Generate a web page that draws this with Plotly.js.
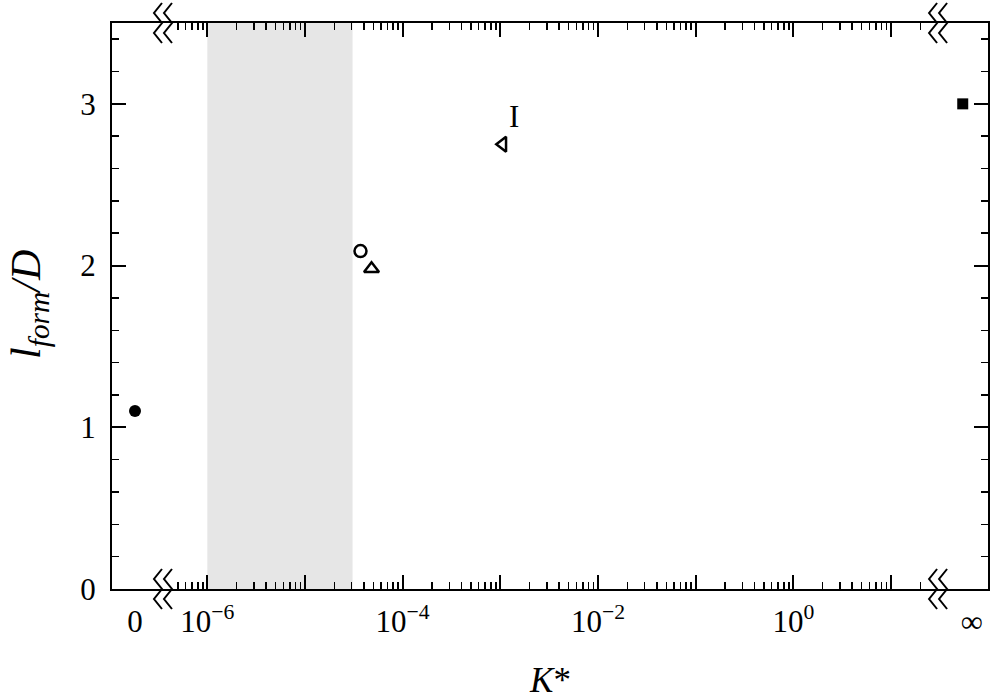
<!DOCTYPE html>
<html>
<head>
<meta charset="utf-8">
<script src="https://cdn.plot.ly/plotly-3.0.1.min.js"></script>
<style>body{margin:0;background:#fff}#graphDiv{width:993px;height:700px}</style>
</head>
<body>
<div id="graphDiv"></div>
<script>
// l_form/D against K*; K*=0 and K*=inf sit on their own short axis pieces
var zeroK = [0], zeroL = [1.1];
var infK = [0], infL = [3.0];
var circK = [3.7e-5], circL = [2.09];
var triUpK = [4.8e-5], triUpL = [1.98];
var triLeftK = [1.06e-3], triLeftL = [2.75];
var bandK = [1e-6, 3.07e-5];
var labelK = [1.39e-3], labelL = [2.92], labelText = ['I'];
var decades = [-6, -5, -4, -3, -2, -1, 0, 1];
var decadeText = ['10<sup>\u22126</sup>', '', '10<sup>\u22124</sup>', '', '10<sup>\u22122</sup>', '', '10<sup>0</sup>', ''];
var yTicks = [0, 1, 2, 3];

var majorX = decades.map(function(d) { return Math.pow(10, d); });
var minorX = [];
for (var d = -7; d <= 1; d++) {
    for (var k = 2; k <= 9; k++) {
        var lg = d + Math.log10(k);
        if (lg > -6.35 && lg < 1.35) minorX.push(k * Math.pow(10, d));
    }
}

var serif = 'Liberation Serif';
var blk = 'black';

var trace0 = {x: zeroK, y: zeroL, xaxis: 'x', yaxis: 'y', type: 'scatter', mode: 'markers',
    marker: {symbol: 'circle', size: 12, color: blk}};
var trace1 = {x: circK, y: circL, xaxis: 'x2', yaxis: 'y', type: 'scatter', mode: 'markers',
    marker: {symbol: 'circle-open', size: 12, color: blk, line: {width: 2.5}}};
var trace2 = {x: triUpK, y: triUpL, xaxis: 'x2', yaxis: 'y', type: 'scatter', mode: 'markers',
    marker: {symbol: 'triangle-up-open', size: 13, color: blk, line: {width: 2.5}}};
var trace3 = {x: triLeftK, y: triLeftL, xaxis: 'x2', yaxis: 'y', type: 'scatter', mode: 'markers',
    marker: {symbol: 'triangle-left-open', size: 13, color: blk, line: {width: 2.5}}};
var trace4 = {x: infK, y: infL, xaxis: 'x3', yaxis: 'y2', type: 'scatter', mode: 'markers',
    marker: {symbol: 'square', size: 11, color: blk}};

var data = [trace0, trace1, trace2, trace3, trace4];

// axis break marks "<<", in pixels round a paper point
var zig = 'M-1,-20L-9,-10L-1,0L-9,10L-1,20M9,-20L1,-10L9,0L1,10L9,20';
var breaks = [];
[0.0582, 0.943].forEach(function(px) {
    [0, 1].forEach(function(py) {
        breaks.push({type: 'path', xref: 'paper', yref: 'paper', xsizemode: 'pixel', ysizemode: 'pixel',
            xanchor: px, yanchor: py, path: zig, line: {color: blk, width: 2}});
    });
});

var notes = labelText.map(function(t, i) {
    return {xref: 'x2', yref: 'y', x: Math.log10(labelK[i]), y: labelL[i], text: t,
        showarrow: false, font: {family: serif, size: 31, color: blk}};
});
// y title placed by hand, further out than the axis title would go
notes.push({xref: 'paper', yref: 'paper', x: -0.094, y: 0.503, xanchor: 'center', yanchor: 'middle',
    textangle: -90, showarrow: false, text: '<i>l</i><sub><i>form</i></sub><i>/D</i>',
    font: {family: serif, size: 42, color: blk}});

var layout = {
    width: 993, height: 700,
    margin: {l: 112, r: 5, t: 23, b: 111},
    paper_bgcolor: 'white', plot_bgcolor: 'white',
    showlegend: false,
    font: {family: serif, size: 31, color: blk},
    xaxis: {domain: [0, 0.0582], range: [-0.902, 1.098], tickmode: 'array', tickvals: [0], ticktext: ['0'],
        ticks: '', showline: true, linewidth: 2, linecolor: blk, mirror: true,
        showgrid: false, zeroline: false, anchor: 'y', ticklabelstandoff: 4},
    xaxis2: {domain: [0.0582, 0.943], type: 'log', range: [-6.454, 1.482],
        tickmode: 'array', tickvals: majorX, ticktext: decadeText, ticklabelstandoff: 4,
        ticks: 'inside', ticklen: 14, tickwidth: 2, tickcolor: blk,
        minor: {tickmode: 'array', tickvals: minorX, ticks: 'inside', ticklen: 7, tickwidth: 1.5, tickcolor: blk, showgrid: false},
        showline: true, linewidth: 2, linecolor: blk, mirror: 'ticks',
        showgrid: false, zeroline: false, anchor: 'y',
        title: {text: '<i>K</i>*', font: {size: 35}, standoff: 32}},
    xaxis3: {domain: [0.943, 1], range: [-0.988, 1.012], tickmode: 'array', tickvals: [0.36], ticktext: ['\u221e'],
        ticks: '', showline: true, linewidth: 2, linecolor: blk, mirror: true,
        showgrid: false, zeroline: false, anchor: 'y', ticklabelstandoff: 4},
    yaxis: {domain: [0, 1], range: [0, 3.5], tickmode: 'array', tickvals: yTicks,
        ticks: 'inside', ticklen: 14, tickwidth: 2, tickcolor: blk, ticklabelstandoff: 8,
        minor: {dtick: 0.2, ticks: 'inside', ticklen: 7, tickwidth: 1.5, tickcolor: blk, showgrid: false},
        showline: true, linewidth: 2, linecolor: blk, showgrid: false, zeroline: false, anchor: 'x'},
    yaxis2: {overlaying: 'y', matches: 'y', side: 'right', anchor: 'x3', range: [0, 3.5],
        tickmode: 'array', tickvals: yTicks, showticklabels: false,
        ticks: 'inside', ticklen: 14, tickwidth: 2, tickcolor: blk,
        minor: {dtick: 0.2, ticks: 'inside', ticklen: 7, tickwidth: 1.5, tickcolor: blk, showgrid: false},
        showline: true, linewidth: 2, linecolor: blk, showgrid: false, zeroline: false},
    shapes: [{type: 'rect', xref: 'x2', yref: 'paper', x0: bandK[0], x1: bandK[1], y0: 0, y1: 1,
        fillcolor: '#e6e6e6', line: {width: 0}, layer: 'below'}].concat(breaks),
    annotations: notes
};

Plotly.newPlot('graphDiv', data, layout, {displayModeBar: false, staticPlot: true});
</script>
</body>
</html>
